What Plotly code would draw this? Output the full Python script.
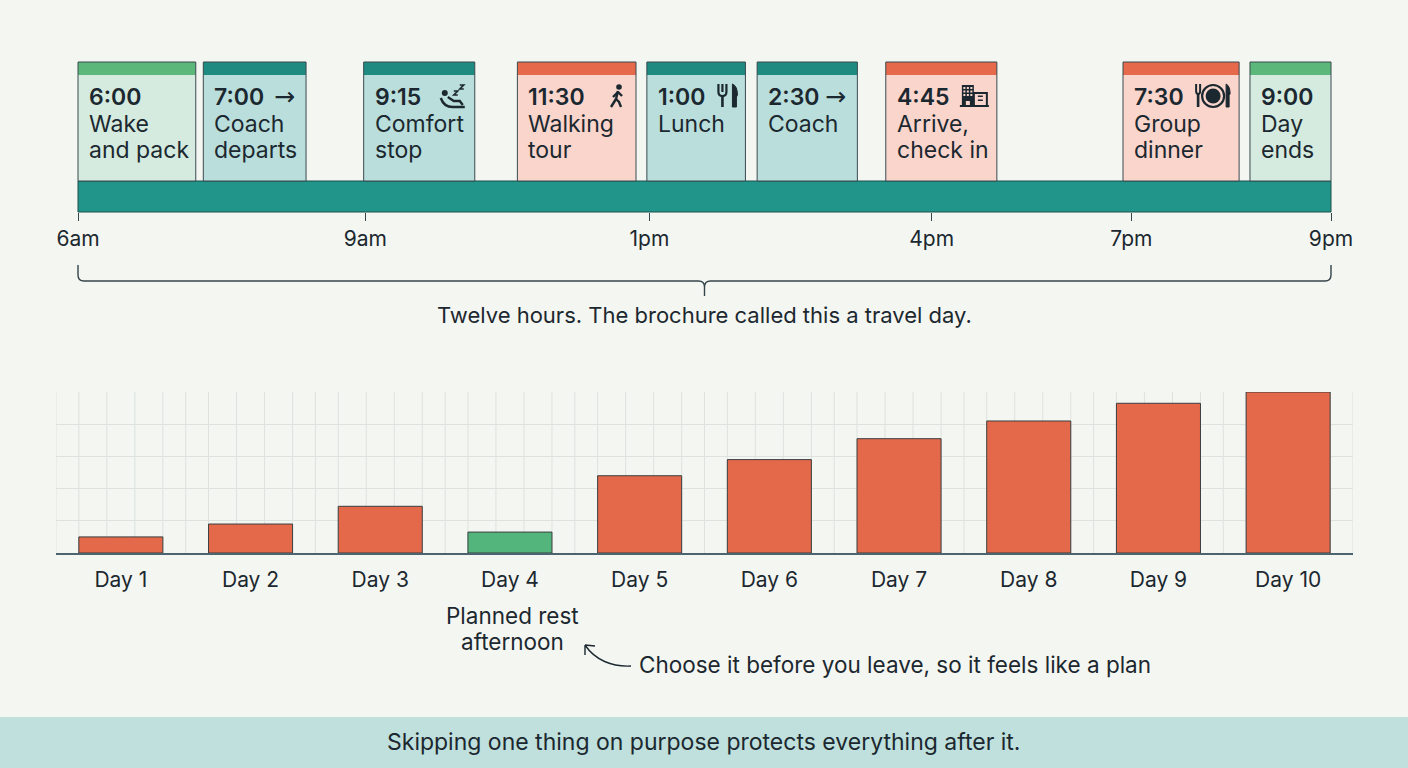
import plotly.graph_objects as go

# ---------------- data: one travel day ----------------
event_time = ["6:00", "7:00", "9:15", "11:30", "1:00", "2:30", "4:45", "7:30", "9:00"]
event_line1 = ["Wake", "Coach", "Comfort", "Walking", "Lunch", "Coach", "Arrive,", "Group", "Day"]
event_line2 = ["and pack", "departs", "stop", "tour", "", "", "check in", "dinner", "ends"]
event_kind = ["rest", "travel", "travel", "activity", "travel", "travel", "activity", "activity", "rest"]
event_icon = ["", "arrow", "sleep", "walk", "lunch", "arrow", "hotel", "dinner", ""]
# drawn extent of each block on the day axis (hours)
block_start_h = [6.00, 7.50, 9.42, 11.26, 12.81, 14.13, 15.67, 18.51, 20.03]
block_end_h = [7.41, 8.73, 10.75, 12.68, 13.99, 15.33, 17.00, 19.90, 21.00]
tick_pos_h = [6.0, 9.44, 12.84, 16.22, 18.61, 21.0]
tick_text = ["6am", "9am", "1pm", "4pm", "7pm", "9pm"]
day_start_h = 6.0
day_end_h = 21.0
brace_text = "Twelve hours. The brochure called this a travel day."

# ---------------- data: tiredness across the trip ----------------
days = ["Day 1", "Day 2", "Day 3", "Day 4", "Day 5", "Day 6", "Day 7", "Day 8", "Day 9", "Day 10"]
load = [1.0, 1.8, 2.9, 1.3, 4.8, 5.8, 7.1, 8.2, 9.3, 10.0]
day_kind = ["push", "push", "push", "rest", "push", "push", "push", "push", "push", "push"]
rest_note_lines = ["Planned rest", "afternoon"]
side_note = "Choose it before you leave, so it feels like a plan"
footer = "Skipping one thing on purpose protects everything after it."

# ---------------- styling ----------------
W, H = 1408, 768
FONT = "Inter"
INK = "#1c2830"
BG = "#f4f6f1"
OUTLINE = "#3b4a50"
HEADER = {"rest": "#5cb87a", "travel": "#1f8b80", "activity": "#e5694a"}
BODY = {"rest": "#d5ebdf", "travel": "#b9dedb", "activity": "#f9d5cb"}
BAR = {"push": "#e4694b", "rest": "#53b57b"}


def pyp(p):
    return 1 - p / H


def pxp(p):
    return p / W


def P(x, y):
    return f"{pxp(x):.5f},{pyp(y):.5f}"


k = (1331 - 78) / (day_end_h - day_start_h)  # px per hour
x_range = [day_start_h - 78 / k, day_end_h + (W - 1331) / k]

shapes = []
annotations = []

# timeline bar
shapes.append(dict(type="rect", xref="x", yref="y", x0=day_start_h, x1=day_end_h, y0=181, y1=212,
                   fillcolor="#21958a", line=dict(color="#1d4f4b", width=1)))

# cards
for i, t in enumerate(event_time):
    x0, x1 = block_start_h[i], block_end_h[i]
    kd = event_kind[i]
    shapes.append(dict(type="rect", xref="x", yref="y", x0=x0, x1=x1, y0=62, y1=181,
                       fillcolor=BODY[kd], line=dict(width=0)))
    shapes.append(dict(type="rect", xref="x", yref="y", x0=x0, x1=x1, y0=62, y1=75,
                       fillcolor=HEADER[kd], line=dict(width=0)))
    shapes.append(dict(type="rect", xref="x", yref="y", x0=x0, x1=x1, y0=62, y1=181,
                       fillcolor="rgba(0,0,0,0)", line=dict(color=OUTLINE, width=1)))
    annotations.append(dict(x=x0, y=97, xref="x", yref="y", xanchor="left", yanchor="middle",
                            xshift=9, text=t, showarrow=False,
                            font=dict(family=FONT, size=23, color=INK, weight=600)))
    for yy, line in ((124, event_line1[i]), (150, event_line2[i])):
        if line:
            annotations.append(dict(x=x0, y=yy, xref="x", yref="y", xanchor="left", yanchor="middle",
                                    xshift=9, text=line, showarrow=False,
                                    font=dict(family=FONT, size=23, color=INK)))


def icon(kind, xa):
    base = dict(xref="x", yref="y", xsizemode="pixel", ysizemode="pixel", xanchor=xa, yanchor=97)
    out = []

    def path(p, fill="rgba(0,0,0,0)", width=2.4):
        out.append(dict(base, type="path", path=p, fillcolor=fill, line=dict(color=INK, width=width)))

    def circ(cx, cy, r, fill=INK, width=0):
        out.append(dict(base, type="circle", x0=cx - r, x1=cx + r, y0=cy - r, y1=cy + r,
                        fillcolor=fill, line=dict(color=INK, width=width)))

    def box(a, b, c, d, fill=INK, width=0):
        out.append(dict(base, type="rect", x0=a, x1=b, y0=c, y1=d, fillcolor=fill,
                        line=dict(color=INK, width=width)))

    if kind == "walk":
        circ(-17, 10, 2.8)
        path("M -18,6 L -20,-2")
        path("M -20,-2 L -25,-10")
        path("M -20,-2 L -17,-5 L -15,-10")
        path("M -18,5 L -23,0")
        path("M -18,5 L -14,1")
    elif kind == "lunch":
        path("M -27,13 L -27,5 Q -27,1 -23,1 Q -19,1 -19,5 L -19,13", width=2.2)
        path("M -23,13 L -23,5", width=2.2)
        path("M -23,1 L -23,-10", width=2.6)
        path("M -13,-10 L -13,13 Q -8,11 -8,2 L -9,0 L -9,-10 Z", fill=INK, width=1)
    elif kind == "hotel":
        box(-35, -23, -9, 12)
        for wx in (-33.5, -30, -26.5):
            for wy in (8, 4.5, 1):
                box(wx, wx + 2, wy, wy + 2, fill="#f9d5cb")
        box(-31, -27, -9, -4, fill="#f9d5cb")
        box(-23, -10, -9, 4, fill="rgba(0,0,0,0)", width=2)
        box(-19, -14, 0, 1.5)
        box(-19, -14, -4, -2.5)
        path("M -37,-9 L -8,-9", width=2)
    elif kind == "dinner":
        path("M -43,13 L -43,6 Q -43,3 -41,3 Q -39,3 -39,6 L -39,13", width=2)
        path("M -41,3 L -41,-10", width=2.6)
        circ(-26, 1, 11, fill="rgba(0,0,0,0)", width=2.2)
        circ(-26, 1, 7.5)
        path("M -13,-10 L -13,13 Q -9,11 -9,3 L -10,2 L -10,-10 Z", fill=INK, width=1)
    elif kind == "sleep":
        circ(-30, 4, 3)
        path("M -27,0 L -21,-4 L -15,-4 L -12,-8")
        path("M -34,-1 Q -31,-10 -22,-10 L -10,-10")
        path("M -21,6 L -17,6 L -21,2 L -17,2", width=1.6)
        path("M -15,12 L -11,12 L -15,8 L -11,8", width=1.6)
    return out


for i, ic in enumerate(event_icon):
    if ic == "arrow":
        annotations.append(dict(x=block_end_h[i], y=96, xref="x", yref="y", xanchor="right",
                                yanchor="middle", xshift=-9, text="→", showarrow=False,
                                font=dict(family="DejaVu Sans", size=25, color=INK)))
    elif ic:
        shapes.extend(icon(ic, block_end_h[i]))

# brace under timeline
cx = (day_start_h + day_end_h) / 2
r = 6 / k
xa, xb = day_start_h, day_end_h
brace = (f"M {xa},265 L {xa},275 Q {xa},281 {xa + r},281 L {cx - r},281 Q {cx},281 {cx},287 "
         f"L {cx},296 M {cx},287 Q {cx},281 {cx + r},281 L {xb - r},281 Q {xb},281 {xb},275 L {xb},265")
shapes.append(dict(type="path", xref="x", yref="y", path=brace, fillcolor="rgba(0,0,0,0)",
                   line=dict(color="#34444b", width=1.4)))
annotations.append(dict(x=cx, y=315, xref="x", yref="y", xanchor="center", yanchor="middle",
                        text=brace_text, showarrow=False, font=dict(family=FONT, size=22, color=INK)))

# vertical grid for bar chart
offs = [-0.5, -0.324, -0.108, 0.108, 0.324]
gx = [i + o for i in range(len(days)) for o in offs] + [len(days) - 0.5]
for g in gx:
    shapes.append(dict(type="line", xref="x2", yref="y2", x0=g, x1=g, y0=0, y1=10,
                       line=dict(color="#dce3df", width=1), layer="below"))

# rest annotation + arrow
rest_idx = day_kind.index("rest")
for yy, line in zip((615, 641), rest_note_lines):
    annotations.append(dict(x=days[rest_idx], y=pyp(yy), xref="x2", yref="paper", xanchor="center",
                            yanchor="middle", xshift=3, text=line, showarrow=False,
                            font=dict(family=FONT, size=22.5, color=INK)))
annotations.append(dict(x=pxp(637), y=pyp(664), xref="paper", yref="paper", xanchor="left",
                        yanchor="middle", text=side_note, showarrow=False,
                        font=dict(family=FONT, size=22.5, color=INK)))
shapes.append(dict(type="path", xref="paper", yref="paper",
                   path=f"M {P(631, 666)} C {P(612, 667)} {P(595, 660)} {P(585, 645)} "
                        f"M {P(585, 645)} L {P(585, 655)} M {P(585, 645)} L {P(595, 646)}",
                   fillcolor="rgba(0,0,0,0)", line=dict(color=INK, width=1.4)))

# footer band
shapes.append(dict(type="rect", xref="paper", yref="paper", x0=0, x1=1, y0=0, y1=pyp(717),
                   fillcolor="#bfe0dc", line=dict(width=0), layer="below"))
annotations.append(dict(x=0.5, y=pyp(742), xref="paper", yref="paper", xanchor="center",
                        yanchor="middle", text=footer, showarrow=False,
                        font=dict(family=FONT, size=23, color=INK)))

fig = go.Figure()
fig.add_trace(go.Scatter(x=[day_start_h, day_end_h], y=[100, 100], mode="markers",
                         marker=dict(opacity=0), hoverinfo="skip", showlegend=False,
                         xaxis="x", yaxis="y"))
fig.add_trace(go.Bar(x=days, y=load, marker=dict(color=[BAR[d] for d in day_kind],
                                                 line=dict(color="#3a3f40", width=1)),
                     width=0.648, xaxis="x2", yaxis="y2", showlegend=False, hoverinfo="skip"))

fig.update_layout(
    width=W, height=H, autosize=False,
    margin=dict(l=0, r=0, t=0, b=0),
    paper_bgcolor=BG, plot_bgcolor="rgba(0,0,0,0)",
    font=dict(family=FONT, color=INK),
    shapes=shapes, annotations=annotations,
    xaxis=dict(domain=[0, 1], range=x_range, anchor="free", position=pyp(212),
               tickmode="array", tickvals=tick_pos_h, ticktext=tick_text,
               ticks="outside", ticklen=8, tickwidth=1.4, tickcolor="#34444b",
               tickfont=dict(family=FONT, size=21, color=INK), ticklabelstandoff=0,
               showgrid=False, zeroline=False, showline=False, fixedrange=True),
    yaxis=dict(domain=[pyp(330), pyp(40)], range=[330, 40], visible=False, fixedrange=True),
    xaxis2=dict(domain=[pxp(56), pxp(1353)], range=[-0.5, 9.5], anchor="y2",
                tickfont=dict(family=FONT, size=21, color=INK), ticks="", ticklabelstandoff=7,
                showline=True, linecolor="#4b6470", linewidth=2, showgrid=False, zeroline=False),
    yaxis2=dict(domain=[pyp(553), pyp(392)], range=[0, 10], anchor="x2", dtick=2,
                showgrid=True, gridcolor="#dce3df", gridwidth=1, showticklabels=False,
                zeroline=False, showline=False),
    bargap=0.35,
)

fig.write_html("out.html", config={"displayModeBar": False},
               post_script="document.body.style.margin='0';document.body.style.overflow='hidden';")
